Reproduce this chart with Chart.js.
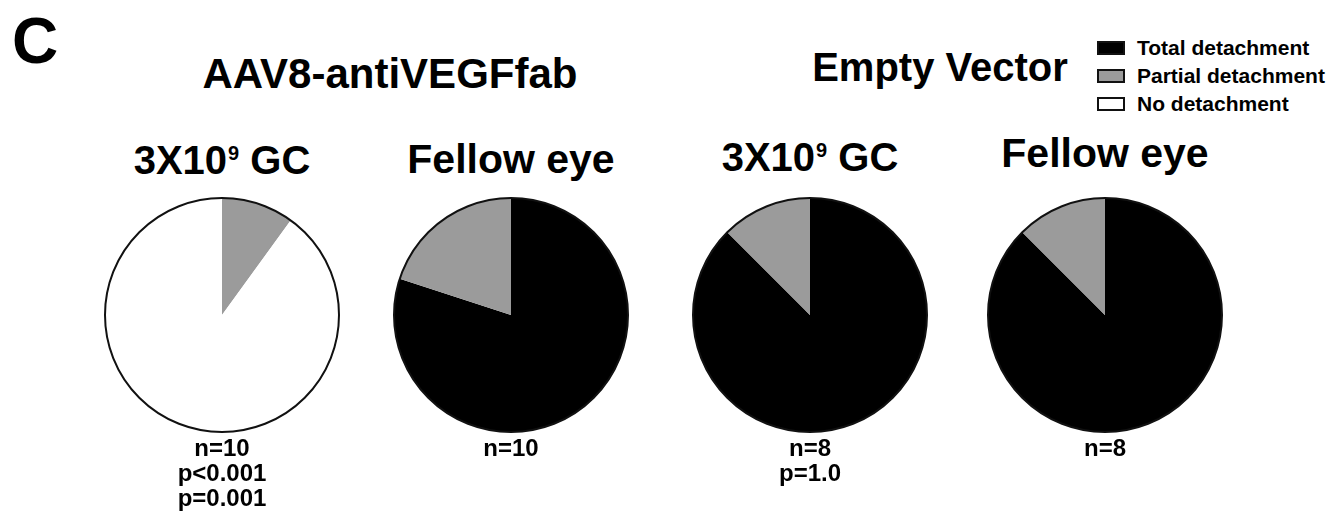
<!DOCTYPE html>
<html>
<head>
<meta charset="utf-8">
<script src="https://cdn.jsdelivr.net/npm/chart.js@4/dist/chart.umd.min.js"></script>
<style>
  body { margin: 0; background: #fff; }
  #stage { position: relative; width: 1329px; height: 519px; overflow: hidden;
           font-family: "Liberation Sans", Arial, sans-serif; color: #000; }
  .txt { position: absolute; white-space: nowrap; font-weight: bold; line-height: 1; }
  .txt sup { font-size: 0.5em; position: relative; top: -0.72em; vertical-align: baseline;
             line-height: 0; margin-left: 1px; }
  .pie { position: absolute; }
  .key { position: absolute; width: 24px; height: 10px; border: 2px solid #111; }
</style>
</head>
<body>
<div id="stage"></div>
<script>
// detachment outcome per eye group (counts of eyes)
const categories = ["Total detachment", "Partial detachment", "No detachment"];
const sliceColors = ["#000000", "#9b9b9b", "#ffffff"];
const groupTitles = ["AAV8-antiVEGFfab", "Empty Vector"];
const panelTitles = ["3X10<sup>9</sup> GC", "Fellow eye", "3X10<sup>9</sup> GC", "Fellow eye"];
const aavDose     = [0, 1, 9];
const aavFellow   = [8, 2, 0];
const emptyDose   = [7, 1, 0];
const emptyFellow = [7, 1, 0];
const nLabels = ["n=10", "n=10", "n=8", "n=8"];
const pLabels = [["p<0.001", "p=0.001"], [], ["p=1.0"], []];

const stage = document.getElementById("stage");

// place a text line centred on cx (or starting at cx) with its baseline at y
function addText(html, cx, baseline, size, weight, align) {
  const el = document.createElement("div");
  el.className = "txt";
  el.innerHTML = html;
  el.style.fontSize = size + "px";
  el.style.top = (baseline - 0.8465 * size) + "px";
  if (weight) el.style.fontWeight = weight;
  el.style.left = cx + "px";
  if (align !== "left") el.style.transform = "translateX(-50%)";
  stage.appendChild(el);
  return el;
}

// black ring round the whole pie
const outline = {
  id: "outline",
  afterDatasetsDraw(chart) {
    const arc = chart.getDatasetMeta(0).data[0];
    const ctx = chart.ctx;
    ctx.save();
    ctx.beginPath();
    ctx.arc(arc.x, arc.y, arc.outerRadius, 0, Math.PI * 2);
    ctx.lineWidth = 2;
    ctx.strokeStyle = "#111";
    ctx.stroke();
    ctx.restore();
  }
};

function drawPie(values, cx, cy) {
  const size = 250;
  const canvas = document.createElement("canvas");
  canvas.className = "pie";
  canvas.width = size;
  canvas.height = size;
  canvas.style.left = (cx - size / 2) + "px";
  canvas.style.top = (cy - size / 2) + "px";
  stage.appendChild(canvas);
  new Chart(canvas, {
    type: "pie",
    data: {
      labels: categories,
      datasets: [{
        data: values,
        backgroundColor: sliceColors,
        borderWidth: 0,
        radius: 117
      }]
    },
    options: {
      responsive: false,
      animation: false,
      events: [],
      layout: { padding: 0 },
      plugins: { legend: { display: false }, tooltip: { enabled: false } }
    },
    plugins: [outline]
  });
}

// panel letter and group headings
addText("C", 12, 63, 64, "bold", "left");
addText(groupTitles[0], 390, 89, 42);
addText(groupTitles[1], 940, 81, 40);

const pieX = [222, 511, 810, 1105];
const pieY = 315;
const titleBase = [174, 174, 171, 168];
const titleSize = [40, 41, 40, 41];
const series = [aavDose, aavFellow, emptyDose, emptyFellow];

series.forEach((vals, i) => {
  addText(panelTitles[i], pieX[i], titleBase[i], titleSize[i]);
  drawPie(vals, pieX[i], pieY);
  addText(nLabels[i], pieX[i], 456, 24);
  pLabels[i].forEach((p, j) => addText(p, pieX[i], 481 + j * 25, 24));
});

// legend
categories.forEach((name, i) => {
  const y = 48 + i * 28;
  const box = document.createElement("div");
  box.className = "key";
  box.style.left = "1097px";
  box.style.top = (y - 7) + "px";
  box.style.background = sliceColors[i];
  stage.appendChild(box);
  addText(name, 1137, y + 7, 21, "bold", "left");
});
</script>
</body>
</html>
